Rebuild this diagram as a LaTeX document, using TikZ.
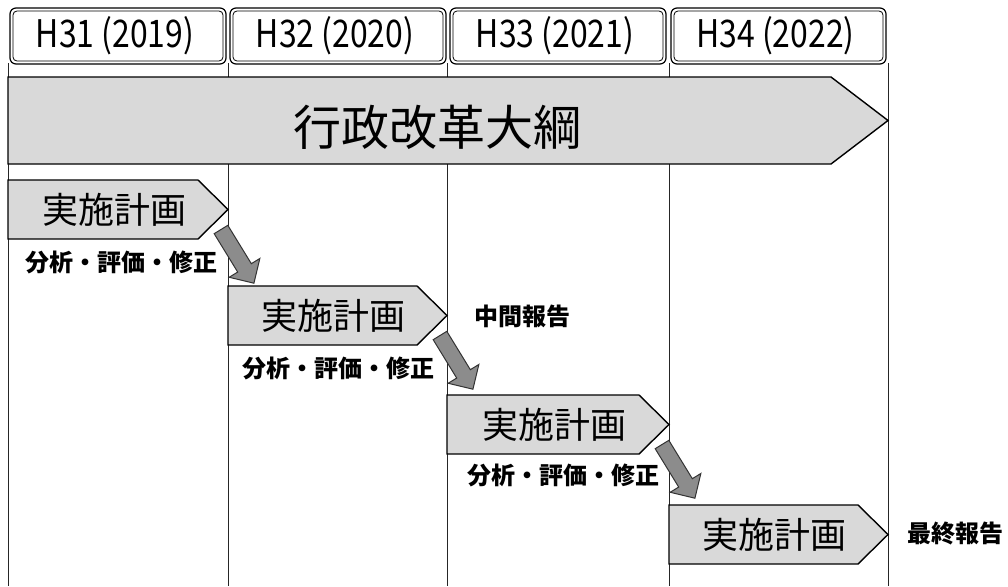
\documentclass[tikz,border=0pt]{standalone}
\usepackage{fontspec}
\setmainfont{Noto Sans CJK JP}
\usetikzlibrary{calc}
\definecolor{lightfill}{HTML}{D9D9D9}
\definecolor{darkfill}{HTML}{8C8C8C}
\tikzset{
  colline/.style={line width=1pt, black!85},
  hdrouter/.style={draw, line width=1.2pt, rounded corners=6pt},
  hdrinner/.style={draw, line width=0.8pt, rounded corners=4pt},
  chev/.style={draw, line width=1.4pt, fill=lightfill, line join=miter},
  diagarrow/.style={draw=black!80, line width=1pt, fill=darkfill, line join=miter},
  hdrtext/.style={inner sep=0pt, font=\fontsize{38}{38}\selectfont},
  bigtext/.style={inner sep=0pt, font=\fontsize{48}{48}\selectfont},
  plantext/.style={inner sep=0pt, font=\fontsize{36}{36}\selectfont},
  notetext/.style={inner sep=0pt, font=\bfseries\fontsize{24}{24}\selectfont},
}
\begin{document}
\begin{tikzpicture}[x=1pt, y=-1pt]
\useasboundingbox (0,0) rectangle (1008,586);
% column lines
\foreach \x in {8,228,447,669,888} \draw[colline] (\x,63) -- (\x,586);
% headers
\foreach \a/\b/\n/\t in {10/226/1/H31 (2019), 230/446/2/H32 (2020), 450/666/3/H33 (2021), 671/886/4/H34 (2022)}{
  \draw[hdrouter] (\a,8) rectangle (\b,64);
  \draw[hdrinner] (\a+3,11) rectangle (\b-3,61);
  \node[hdrtext] (h\n) at ({(\a+\b)/2-3},36) {\scalebox{0.84}[1]{\t}};
}
% big arrow
\draw[chev] (8,77) -- (831,77) -- (888,120.5) -- (831,164) -- (8,164) -- cycle;
\node[bigtext] (taiko) at (437,127) {行政改革大綱};
% plan chevrons
\foreach \l/\r/\tp/\n in {8/228/180/1, 228/447/286/2, 447/669/395/3, 669/888/505/4}{
  \draw[chev] (\l,\tp) -- (\r-30,\tp) -- (\r,\tp+29.5) -- (\r-30,\tp+59) -- (\l,\tp+59) -- cycle;
  \coordinate (t\n) at (\r,\tp+29.5);
  \node[plantext] (p\n) at ({(\l+\r)/2-4},\tp+29.5) {実施計画};
}
% notes
\node[notetext] (n1) at (121,262) {分析・評価・修正};
\node[notetext] (n2) at (338,368) {分析・評価・修正};
\node[notetext] (n3) at (563,475) {分析・評価・修正};
\node[notetext] (mid) at (522,316) {中間報告};
\node[notetext] (fin) at (955,533) {最終報告};
% diagonal arrows
\foreach \n in {1,2,3}{
  \draw[diagarrow, shift={($(t\n)+(-7,20)$)}, rotate=-58.5]
    (0,-8) -- (45,-8) -- (45,-18) -- (63,0) -- (45,18) -- (45,8) -- (0,8) -- cycle;
}
\end{tikzpicture}
\end{document}
